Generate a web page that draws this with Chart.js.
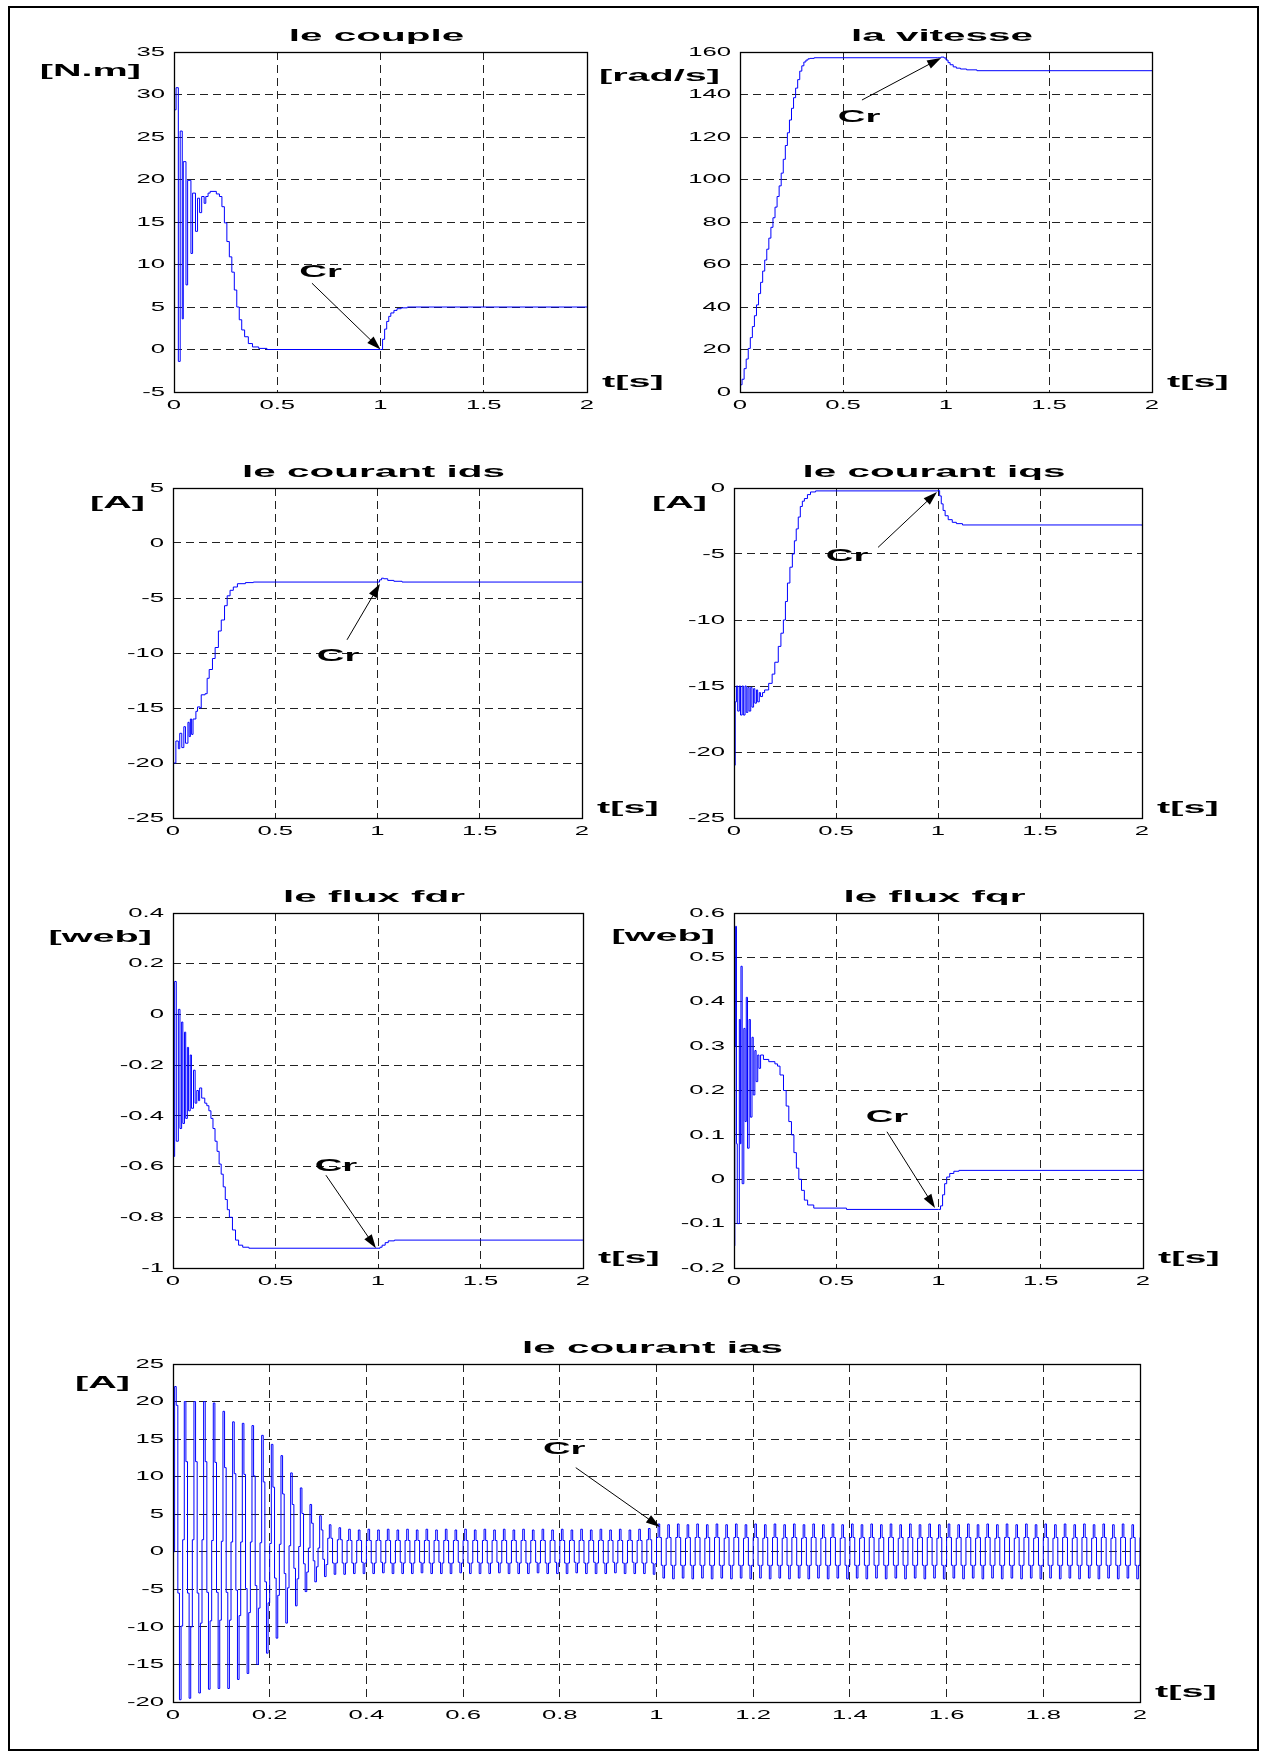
<!DOCTYPE html>
<html>
<head>
<meta charset="utf-8">
<title>Simulation MAS</title>
<script src="https://cdn.jsdelivr.net/npm/chart.js@4.4.0/dist/chart.umd.min.js"></script>
<style>
  html, body { margin: 0; padding: 0; background: #fff; }
  #page { position: relative; width: 1262px; height: 1751px; overflow: hidden; }
  #frame { position: absolute; left: 8px; top: 6px; width: 1247px; height: 1741px; border: 2px solid #000; }
  canvas { position: absolute; }
</style>
</head>
<body>
<div id="page"><div id="frame"></div></div>
<script>
// --- data (time in s) ---
const tCouple = [0, 0.010, 0.021, 0.030, 0.040, 0.045, 0.058, 0.066, 0.082, 0.090, 0.104, 0.114, 0.124, 0.134, 0.146,
  0.154, 0.165, 0.175, 0.205, 0.220, 0.232, 0.244, 0.256, 0.268, 0.280, 0.292, 0.304, 0.316, 0.328, 0.342,
  0.360, 0.380, 0.410, 0.450, 1.000, 1.010, 1.020, 1.030, 1.040, 1.050, 1.065, 1.080, 1.100, 1.130, 2.000];
const couple = [28.2, 30.8, -1.4, 25.7, 3.6, 22.1, 7.6, 19.9, 11.3, 18.4, 13.9, 17.8, 16.1, 18.0, 17.2,
  18.0, 18.4, 18.6, 18.3, 18.0, 16.8, 14.9, 12.7, 10.9, 9.1, 7.0, 5.0, 3.5, 2.3, 1.5,
  0.7, 0.3, 0.13, 0, 0, 1.2, 2.4, 3.3, 3.9, 4.3, 4.6, 4.8, 4.9, 5.0, 5.0];

const tVitesse = [0, 0.01, 0.02, 0.03, 0.04, 0.05, 0.06, 0.07, 0.08, 0.09, 0.10, 0.11, 0.12, 0.13, 0.14, 0.15, 0.16,
  0.17, 0.18, 0.19, 0.20, 0.21, 0.22, 0.23, 0.24, 0.25, 0.26, 0.27, 0.28, 0.29, 0.30, 0.31, 0.32, 0.33, 0.34,
  0.36, 0.96, 0.975, 0.99, 1.00, 1.01, 1.02, 1.035, 1.05, 1.07, 1.10, 1.15, 2.00];
const vitesse = [3.4, 6, 11, 15.5, 20.5, 25.6, 30.8, 35.9, 41, 46.3, 51.6, 56.9, 62.1, 67.2, 72.4, 77.5, 82,
  87, 92, 97, 103, 109.5, 116, 122, 128, 133.5, 138.5, 143, 147, 151, 153.5, 155.3, 156.2, 156.8, 157,
  157.3, 157.3, 157.6, 157.2, 156.2, 155, 154, 153, 152.4, 152, 151.6, 151.2, 151.2];

const tIds = [0, 0.002, 0.014, 0.026, 0.033, 0.043, 0.053, 0.061, 0.073, 0.079, 0.085, 0.091, 0.098, 0.112, 0.120,
  0.132, 0.138, 0.157, 0.167, 0.177, 0.193, 0.206, 0.222, 0.236, 0.252, 0.265, 0.279, 0.295, 0.315, 0.354,
  0.393, 1.000, 1.010, 1.020, 1.030, 1.050, 1.080, 1.120, 2.000];
const ids = [0, -20, -18, -18.7, -17.3, -18.6, -16.7, -18.2, -16.3, -17.6, -16, -17.4, -16, -15.3, -14.9,
  -15, -13.8, -13.7, -12.3, -11.5, -10.5, -9.5, -8, -7, -5.7, -4.8, -4.3, -4, -3.7, -3.6,
  -3.55, -3.55, -3.35, -3.2, -3.25, -3.4, -3.48, -3.55, -3.55];

const tIqs = [0, 0.002, 0.006, 0.012, 0.018, 0.026, 0.032, 0.040, 0.046, 0.054, 0.060, 0.068, 0.074, 0.082, 0.088,
  0.096, 0.102, 0.110, 0.116, 0.124, 0.130, 0.140, 0.150, 0.170, 0.187, 0.200, 0.217, 0.230, 0.242, 0.252,
  0.262, 0.274, 0.286, 0.296, 0.305, 0.315, 0.325, 0.335, 0.345, 0.360, 0.375, 0.400, 1.000, 1.008, 1.016,
  1.025, 1.035, 1.050, 1.070, 1.090, 1.120, 2.000];
const iqs = [0, -21, -16.2, -15, -16.9, -15, -17.2, -15, -17.2, -15, -17, -15.1, -16.9, -15.1, -16.6,
  -15.2, -16.3, -15.3, -16.2, -15.5, -15.8, -15.5, -15.3, -14.8, -14.1, -13.2, -12, -11, -10, -8.6,
  -7.2, -6, -5, -4, -3.1, -2.2, -1.4, -1, -0.8, -0.5, -0.3, -0.22, -0.2, -0.6, -1.2,
  -1.7, -2.1, -2.4, -2.6, -2.7, -2.8, -2.83];

const tFdr = [0, 0.008, 0.016, 0.026, 0.034, 0.042, 0.048, 0.056, 0.062, 0.070, 0.076, 0.084, 0.090, 0.100, 0.108,
  0.116, 0.124, 0.130, 0.140, 0.155, 0.165, 0.175, 0.185, 0.195, 0.205, 0.215, 0.225, 0.235, 0.245, 0.255,
  0.265, 0.275, 0.290, 0.305, 0.320, 0.340, 0.370, 1.000, 1.010, 1.020, 1.035, 1.050, 1.080, 2.000];
const fdr = [-0.56, 0.13, -0.5, 0.02, -0.45, -0.03, -0.43, -0.07, -0.41, -0.13, -0.38, -0.16, -0.37, -0.22, -0.35,
  -0.3, -0.34, -0.29, -0.33, -0.35, -0.36, -0.38, -0.41, -0.45, -0.5, -0.54, -0.59, -0.63, -0.68, -0.73,
  -0.77, -0.8, -0.85, -0.89, -0.91, -0.918, -0.922, -0.922, -0.918, -0.91, -0.9, -0.893, -0.89, -0.89];

const tFqr = [0, 0.004, 0.008, 0.012, 0.016, 0.026, 0.031, 0.034, 0.040, 0.048, 0.054, 0.060, 0.066, 0.074, 0.080,
  0.088, 0.094, 0.102, 0.108, 0.116, 0.122, 0.130, 0.144, 0.170, 0.200, 0.213, 0.225, 0.242, 0.255, 0.268,
  0.281, 0.293, 0.305, 0.317, 0.330, 0.344, 0.360, 0.390, 0.550, 1.000, 1.010, 1.020, 1.030, 1.040, 1.055,
  1.075, 1.100, 2.000];
const fqr = [-0.15, 0.3, 0.57, 0.08, -0.1, 0.36, 0.08, 0.48, -0.01, 0.34, 0.13, 0.41, 0.07, 0.36, 0.14,
  0.32, 0.19, 0.29, 0.22, 0.28, 0.25, 0.28, 0.27, 0.265, 0.26, 0.255, 0.235, 0.2, 0.165, 0.13,
  0.1, 0.06, 0.025, 0, -0.025, -0.047, -0.058, -0.065, -0.068, -0.068, -0.06, -0.035, -0.01, 0.005, 0.013,
  0.018, 0.02, 0.02];

// ias: sampled every 1/300 s (6 samples per 50 Hz period)
const iasStep = 1 / 300;
const ias = [
  // periods 1-18 (start-up, 0 - 0.36 s)
  0, 22, 19.5, -5.5, -19.7, -9.9,
  1.6, 20, 12, -5.5, -19.5, -10,
  1.6, 20, 12, -5.5, -18.8, -9.5,
  1.6, 20, 12, -5.4, -18.3, -9.2,
  1.5, 19.8, 11.9, -5.4, -18.2, -9.1,
  1.4, 18.7, 11.2, -5.4, -18.2, -9.1,
  1.3, 17.3, 10.4, -5.1, -17, -8.5,
  1.3, 17.1, 10.3, -4.9, -16.2, -8.1,
  1.3, 16.8, 10.1, -4.5, -15, -7.5,
  1.2, 15.5, 9.3, -4, -13.5, -6.8,
  1.1, 14.3, 8.6, -3.5, -11.5, -5.8,
  1, 12.8, 7.7, -2.9, -9.5, -4.8,
  0.8, 10.5, 6.3, -2.2, -7.2, -3.6,
  0.7, 8.5, 5.1, -1.6, -5.3, -2.7,
  0.5, 6.3, 3.8, -1.2, -4, -2,
  0.5, 4.8, 2.9, -1, -3.3, -1.7,
  1.8, 3.6, 1.8, -1.5, -3, -1.5,
  1.6, 3.2, 1.6, -1.5, -3, -1.5,
  // periods 19-50 (no load, 0.36 - 1.0 s), two per line
  1.5, 3, 1.5, -1.5, -2.9, -1.5,   1.5, 2.9, 1.5, -1.4, -2.9, -1.5,
  1.5, 3, 1.5, -1.5, -2.9, -1.5,   1.5, 2.9, 1.5, -1.4, -2.8, -1.5,
  1.5, 3, 1.5, -1.5, -2.9, -1.5,   1.5, 2.9, 1.5, -1.4, -2.9, -1.5,
  1.5, 3, 1.5, -1.5, -2.9, -1.5,   1.5, 2.9, 1.5, -1.4, -2.8, -1.5,
  1.5, 3, 1.5, -1.5, -2.9, -1.5,   1.5, 2.9, 1.5, -1.4, -2.9, -1.5,
  1.5, 3, 1.5, -1.5, -2.9, -1.5,   1.5, 2.9, 1.5, -1.4, -2.8, -1.5,
  1.5, 3, 1.5, -1.5, -2.9, -1.5,   1.5, 2.9, 1.5, -1.4, -2.9, -1.5,
  1.5, 3, 1.5, -1.5, -2.9, -1.5,   1.5, 2.9, 1.5, -1.4, -2.8, -1.5,
  1.5, 3, 1.5, -1.5, -2.9, -1.5,   1.5, 2.9, 1.5, -1.4, -2.9, -1.5,
  1.5, 3, 1.5, -1.5, -2.9, -1.5,   1.5, 2.9, 1.5, -1.4, -2.8, -1.5,
  1.5, 3, 1.5, -1.5, -2.9, -1.5,   1.5, 2.9, 1.5, -1.4, -2.9, -1.5,
  1.5, 3, 1.5, -1.5, -2.9, -1.5,   1.5, 2.9, 1.5, -1.4, -2.8, -1.5,
  1.5, 3, 1.5, -1.5, -2.9, -1.5,   1.5, 2.9, 1.5, -1.4, -2.9, -1.5,
  1.5, 3, 1.5, -1.5, -2.9, -1.5,   1.5, 2.9, 1.5, -1.4, -2.8, -1.5,
  1.5, 3, 1.5, -1.5, -2.9, -1.5,   1.5, 2.9, 1.5, -1.4, -2.9, -1.5,
  1.5, 3, 1.5, -1.5, -2.9, -1.5,   1.6, 3.1, 1.6, -1.5, -3, -1.6,
  // periods 51-100 (load Cr applied, 1.0 - 2.0 s), two per line
  1.9, 3.7, 1.9, -1.8, -3.5, -1.8,   1.8, 3.6, 1.9, -1.8, -3.6, -1.8,
  1.9, 3.7, 1.9, -1.8, -3.5, -1.8,   1.8, 3.6, 1.9, -1.8, -3.6, -1.8,
  1.9, 3.7, 1.9, -1.8, -3.5, -1.8,   1.8, 3.6, 1.9, -1.8, -3.6, -1.8,
  1.9, 3.7, 1.9, -1.8, -3.5, -1.8,   1.8, 3.6, 1.9, -1.8, -3.6, -1.8,
  1.9, 3.7, 1.9, -1.8, -3.5, -1.8,   1.8, 3.6, 1.9, -1.8, -3.6, -1.8,
  1.9, 3.7, 1.9, -1.8, -3.5, -1.8,   1.8, 3.6, 1.9, -1.8, -3.6, -1.8,
  1.9, 3.7, 1.9, -1.8, -3.5, -1.8,   1.8, 3.6, 1.9, -1.8, -3.6, -1.8,
  1.9, 3.7, 1.9, -1.8, -3.5, -1.8,   1.8, 3.6, 1.9, -1.8, -3.6, -1.8,
  1.9, 3.7, 1.9, -1.8, -3.5, -1.8,   1.8, 3.6, 1.9, -1.8, -3.6, -1.8,
  1.9, 3.7, 1.9, -1.8, -3.5, -1.8,   1.8, 3.6, 1.9, -1.8, -3.6, -1.8,
  1.9, 3.7, 1.9, -1.8, -3.5, -1.8,   1.8, 3.6, 1.9, -1.8, -3.6, -1.8,
  1.9, 3.7, 1.9, -1.8, -3.5, -1.8,   1.8, 3.6, 1.9, -1.8, -3.6, -1.8,
  1.9, 3.7, 1.9, -1.8, -3.5, -1.8,   1.8, 3.6, 1.9, -1.8, -3.6, -1.8,
  1.9, 3.7, 1.9, -1.8, -3.5, -1.8,   1.8, 3.6, 1.9, -1.8, -3.6, -1.8,
  1.9, 3.7, 1.9, -1.8, -3.5, -1.8,   1.8, 3.6, 1.9, -1.8, -3.6, -1.8,
  1.9, 3.7, 1.9, -1.8, -3.5, -1.8,   1.8, 3.6, 1.9, -1.8, -3.6, -1.8,
  1.9, 3.7, 1.9, -1.8, -3.5, -1.8,   1.8, 3.6, 1.9, -1.8, -3.6, -1.8,
  1.9, 3.7, 1.9, -1.8, -3.5, -1.8,   1.8, 3.6, 1.9, -1.8, -3.6, -1.8,
  1.9, 3.7, 1.9, -1.8, -3.5, -1.8,   1.8, 3.6, 1.9, -1.8, -3.6, -1.8,
  1.9, 3.7, 1.9, -1.8, -3.5, -1.8,   1.8, 3.6, 1.9, -1.8, -3.6, -1.8,
  1.9, 3.7, 1.9, -1.8, -3.5, -1.8,   1.8, 3.6, 1.9, -1.8, -3.6, -1.8,
  1.9, 3.7, 1.9, -1.8, -3.5, -1.8,   1.8, 3.6, 1.9, -1.8, -3.6, -1.8,
  1.9, 3.7, 1.9, -1.8, -3.5, -1.8,   1.8, 3.6, 1.9, -1.8, -3.6, -1.8,
  1.9, 3.7, 1.9, -1.8, -3.5, -1.8,   1.8, 3.6, 1.9, -1.8, -3.6, -1.8,
  1.9, 3.7, 1.9, -1.8, -3.5, -1.8,   1.8, 3.6, 1.9, -1.8, -3.6, -1.8,
  1.9
];

// --- drawing ---
Chart.defaults.font.family = "'Liberation Sans', Arial, sans-serif";
Chart.defaults.font.size = 13.5;
Chart.defaults.color = '#000';

// the tick labels of the original are drawn with a horizontally stretched face
const TICK_STRETCH = 1.9;
class WideLinear extends Chart.LinearScale {
  drawLabels(chartArea) {
    const ctx = this.ctx;
    for (const item of this.getLabelItems(chartArea)) {
      const o = item.options;
      ctx.save();
      ctx.font = item.font.string;
      ctx.fillStyle = o.color;
      ctx.textAlign = o.textAlign;
      ctx.textBaseline = o.textBaseline;
      ctx.translate(o.translation[0], o.translation[1]);
      ctx.scale(TICK_STRETCH, 1);
      ctx.fillText(item.label, 0, item.textOffset);
      ctx.restore();
    }
  }
}
WideLinear.id = 'wideLinear';
WideLinear.defaults = Chart.LinearScale.defaults;
Chart.register(WideLinear);

function wideText(ctx, text, x, y, align, sx) {
  ctx.save();
  ctx.font = 'bold 17px "Liberation Sans", Arial, sans-serif';
  ctx.fillStyle = '#000';
  ctx.textAlign = align;
  ctx.textBaseline = 'middle';
  ctx.translate(x, y);
  ctx.scale(sx, 1);
  ctx.fillText(text, 0, 0);
  ctx.restore();
}

function arrow(ctx, x0, y0, x1, y1) {
  const a = Math.atan2(y1 - y0, x1 - x0), c = Math.cos(a), s = Math.sin(a);
  ctx.beginPath();
  ctx.moveTo(x0, y0);
  ctx.lineTo(x1 - 10 * c, y1 - 10 * s);
  ctx.stroke();
  ctx.beginPath();
  ctx.moveTo(x1, y1);
  ctx.lineTo(x1 - 14 * c + 4.5 * s, y1 - 14 * s - 4.5 * c);
  ctx.lineTo(x1 - 14 * c - 4.5 * s, y1 - 14 * s + 4.5 * c);
  ctx.closePath();
  ctx.fill();
}

const decor = {
  id: 'decor',
  afterDraw(chart, args, o) {
    const { ctx, chartArea: a, scales: { x, y } } = chart;
    ctx.save();
    ctx.setLineDash([]);
    ctx.strokeStyle = '#000';
    ctx.fillStyle = '#000';
    ctx.lineWidth = 1.3;
    ctx.strokeRect(Math.round(a.left) + 0.5, Math.round(a.top) + 0.5, Math.round(a.right - a.left), Math.round(a.bottom - a.top));
    wideText(ctx, o.title, (a.left + a.right) / 2 - 4, a.top - 16, 'center', 2.38);
    wideText(ctx, o.unit, a.left - o.unitAt[0], a.top + o.unitAt[1], 'right', 2.33);
    wideText(ctx, 't[s]', a.right + 15, a.bottom - 10, 'left', 2.33);
    const cr = o.cr;
    wideText(ctx, 'Cr', x.getPixelForValue(cr.text[0]), y.getPixelForValue(cr.text[1]), 'center', 2.25);
    ctx.lineWidth = 1;
    arrow(ctx, x.getPixelForValue(cr.from[0]), y.getPixelForValue(cr.from[1]),
      x.getPixelForValue(cr.to[0]), y.getPixelForValue(cr.to[1]));
    ctx.restore();
  }
};

const fmt = v => String(+(+v).toFixed(2));

function axis(min, max, step, horizontal) {
  return {
    type: 'wideLinear', min, max,
    ticks: { stepSize: step, autoSkip: false, maxRotation: 0, padding: horizontal ? 5 : 9, callback: fmt, color: '#000' },
    grid: { color: '#222', lineWidth: 1, drawTicks: false },
    border: { display: false, dash: [8, 5] },
    afterFit(s) {
      if (horizontal) { s.height = 30; s.paddingLeft = 0; s.paddingRight = 0; }
      else { s.width = 60; s.paddingTop = 0; s.paddingBottom = 0; }
    }
  };
}

const ML = 160, MT = 60, MR = 100, MB = 40;

function panel(box, t, v, yr, xStep, deco) {
  const [L, T, R, B] = box;
  const cv = document.createElement('canvas');
  cv.width = R - L + ML + MR;
  cv.height = B - T + MT + MB;
  cv.style.left = (L - ML) + 'px';
  cv.style.top = (T - MT) + 'px';
  document.getElementById('page').appendChild(cv);
  new Chart(cv.getContext('2d'), {
    type: 'line',
    data: {
      datasets: [{
        data: t.map((x, i) => ({ x, y: v[i] })),
        borderColor: '#0000ff',
        borderWidth: 1,
        pointRadius: 0,
        stepped: true,
        fill: false
      }]
    },
    options: {
      responsive: false,
      animation: false,
      devicePixelRatio: 1,
      events: [],
      layout: { padding: { left: ML - 60, top: MT, right: MR, bottom: MB - 30 } },
      scales: {
        x: axis(0, 2, xStep, true),
        y: axis(yr[0], yr[1], yr[2], false)
      },
      plugins: { legend: { display: false }, tooltip: { enabled: false }, decor: deco }
    },
    plugins: [decor]
  });
}

const tIas = ias.map((_, i) => i * iasStep);

panel([174, 52, 587, 392], tCouple, couple, [-5, 35, 5], 0.5,
  { title: 'le couple', unit: '[N.m]', unitAt: [33, 19],
    cr: { text: [0.71, 9.1], from: [0.668, 7.8], to: [1.0, 0] } });
panel([740, 52, 1152, 392], tVitesse, vitesse, [0, 160, 20], 0.5,
  { title: 'la vitesse', unit: '[rad/s]', unitAt: [20, 24],
    cr: { text: [0.578, 129.4], from: [0.592, 137.4], to: [0.976, 157.2] } });
panel([173, 488, 582, 818], tIds, ids, [-25, 5, 5], 0.5,
  { title: 'le courant ids', unit: '[A]', unitAt: [28, 15],
    cr: { text: [0.807, -10.3], from: [0.851, -8.8], to: [1.012, -3.7] } });
panel([734, 488, 1142, 818], tIqs, iqs, [-25, 0, 5], 0.5,
  { title: 'le courant iqs', unit: '[A]', unitAt: [27, 15],
    cr: { text: [0.554, -5.2], from: [0.706, -4.5], to: [0.995, -0.3] } });
panel([173, 913, 583, 1268], tFdr, fdr, [-1, 0.4, 0.2], 0.5,
  { title: 'le flux fdr', unit: '[web]', unitAt: [21, 24],
    cr: { text: [0.795, -0.598], from: [0.746, -0.634], to: [0.99, -0.922] } });
panel([734, 913, 1143, 1268], tFqr, fqr, [-0.2, 0.6, 0.1], 0.5,
  { title: 'le flux fqr', unit: '[web]', unitAt: [19, 23],
    cr: { text: [0.748, 0.14], from: [0.748, 0.107], to: [0.983, -0.065] } });
panel([173, 1364, 1140, 1702], tIas, ias, [-20, 25, 5], 0.2,
  { title: 'le courant ias', unit: '[A]', unitAt: [43, 19],
    cr: { text: [0.809, 13.7], from: [0.833, 11.2], to: [1.007, 3.3] } });
</script>
</body>
</html>
